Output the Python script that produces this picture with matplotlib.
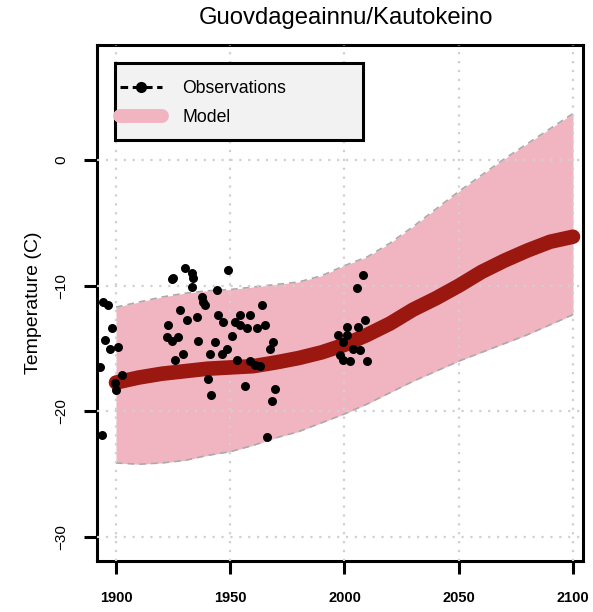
import matplotlib
matplotlib.use("Agg")
import matplotlib.pyplot as plt
from matplotlib.lines import Line2D
from matplotlib.patches import Rectangle

plt.rcParams['font.family'] = ['Liberation Sans', 'DejaVu Sans']

title = "Guovdageainnu/Kautokeino"
ylabel = "Temperature (C)"

model_years = [1900, 1910, 1920, 1930, 1940, 1950, 1960, 1970, 1980, 1990, 2000,
               2010, 2020, 2030, 2040, 2050, 2060, 2070, 2080, 2090, 2100]
model_mean = [-17.7, -17.3, -17.0, -16.8, -16.6, -16.5, -16.4, -16.1, -15.75, -15.3, -14.7,
              -13.9, -13.0, -11.9, -11.0, -10.0, -8.9, -8.0, -7.2, -6.5, -6.1]
model_upper = [-11.7, -11.3, -10.9, -10.6, -10.4, -10.3, -10.1, -9.9, -9.7, -9.2, -8.4,
               -7.7, -6.6, -5.3, -3.9, -2.5, -1.2, 0.1, 1.3, 2.5, 3.7]
model_lower = [-24.1, -24.2, -24.1, -23.9, -23.5, -23.2, -22.7, -22.1, -21.6, -20.9, -20.2,
               -19.4, -18.5, -17.6, -16.8, -16.0, -15.3, -14.6, -13.9, -13.1, -12.3]

obs_year = [1894.3, 1896.5, 1898.1, 1895.2, 1897.4, 1900.9, 1893.0, 1902.5, 1893.7,
            1899.6, 1899.9,
            1924.4, 1922.7, 1922.3, 1924.5, 1925.8, 1930.2, 1925.1, 1933.1, 1933.8,
            1933.1, 1949.1, 1944.0, 1937.5, 1938.2, 1938.9, 1963.7, 1928.0, 1944.8,
            1935.3, 1930.9, 1946.9, 1954.2, 1958.6, 1952.1, 1954.2, 1957.2, 1961.5,
            1965.2, 1927.3, 1936.0, 1943.3, 1950.6, 1968.8, 1967.4, 1929.4, 1941.1,
            1946.2, 1948.4, 1952.8, 1958.6, 1960.8, 1963.0, 1940.4, 1956.4, 1969.6,
            1941.8, 1968.1, 1965.9,
            2008.2, 2005.3, 2008.9, 2006.0, 2000.9, 1997.2, 2000.9, 1999.4, 2003.8,
            2006.7, 1998.0, 1999.4, 2002.4, 2009.7]
obs_temp = [-11.3, -11.5, -13.4, -14.3, -15.0, -14.9, -16.5, -17.1, -21.9,
            -17.7, -18.3,
            -9.5, -13.1, -14.1, -14.4, -15.9, -8.6, -9.4, -9.0, -9.4,
            -10.1, -8.75, -10.3, -10.9, -11.3, -11.5, -11.5, -11.9, -12.3,
            -12.5, -12.7, -12.9, -12.3, -12.3, -12.9, -13.1, -13.4, -13.4,
            -13.1, -14.1, -14.4, -14.5, -14.0, -14.5, -15.0, -15.4, -15.4,
            -15.4, -15.0, -15.9, -16.0, -16.3, -16.4, -17.4, -18.0, -18.2,
            -18.7, -19.2, -22.0,
            -9.15, -10.2, -12.7, -13.3, -13.3, -13.9, -13.9, -14.5, -15.0,
            -15.1, -15.5, -15.9, -16.0, -16.0]

x_ticks = [1900, 1950, 2000, 2050, 2100]
y_ticks = [0, -10, -20, -30]
legend_labels = ["Observations", "Model"]

band_color = '#f1b5c2'
line_color = '#9a1810'

fig = plt.figure(figsize=(5.93, 6.12), dpi=100)
ax = fig.add_axes([0.1636, 0.0833, 0.8196, 0.8431])

ax.fill_between(model_years, model_lower, model_upper, color=band_color, lw=0, zorder=1)
ax.plot(model_years, model_upper, color='#aaaaaa', ls=(0, (4, 3)), lw=1.2, zorder=2)
ax.plot(model_years, model_lower, color='#aaaaaa', ls=(0, (4, 3)), lw=1.2, zorder=2)

for xt in x_ticks:
    ax.axvline(xt, color='#d0d0d0', ls=(0, (1, 3)), lw=1.6, zorder=3)
for yt in y_ticks:
    ax.axhline(yt, color='#d0d0d0', ls=(0, (1, 3)), lw=1.6, zorder=3)

ax.plot(model_years, model_mean, color=line_color, lw=10.5, solid_capstyle='round',
        solid_joinstyle='round', zorder=4)
ax.scatter(obs_year, obs_temp, s=42, color='black', zorder=5, lw=0)

ax.set_xlim(1891.7, 2104.4)
ax.set_ylim(-31.9, 9.15)
ax.set_xticks(x_ticks)
ax.set_yticks(y_ticks)
ax.set_xticklabels([str(v) for v in x_ticks], fontsize=10.5, fontweight='bold')
ax.set_yticklabels([str(v).replace('-', '\u2212') for v in y_ticks], fontsize=11,
                   rotation=90, va='center')
ax.tick_params(axis='both', direction='out', length=9.5, width=2.2, color='black')
ax.tick_params(axis='x', pad=12)
ax.tick_params(axis='y', pad=11)
for sp in ax.spines.values():
    sp.set_linewidth(2.2)
    sp.set_color('black')

ax.set_ylabel(ylabel, fontsize=14, labelpad=9)
fig.text(0.583, 1 - 18 / 612, title, ha='center', va='center', fontsize=17.2)

# legend box
box = Rectangle((0.037, 0.816), 0.51, 0.149, transform=ax.transAxes,
                facecolor='#f2f2f2', edgecolor='black', lw=2.2, zorder=9)
ax.add_patch(box)

handles = [Line2D([0], [0], color='black', ls=(0, (2.5, 1.5)), lw=2.2, marker='o',
                  markersize=7),
           Line2D([0], [0], color=band_color, lw=10, solid_capstyle='round')]
leg = ax.legend(handles, legend_labels, loc='upper left',
                bbox_to_anchor=(0.0473, 0.932), fontsize=12.7, frameon=False,
                handlelength=2.4, handletextpad=1.15,
                borderpad=0, labelspacing=0.68, borderaxespad=0)
leg.set_zorder(10)

fig.savefig('out.png', dpi=100)
